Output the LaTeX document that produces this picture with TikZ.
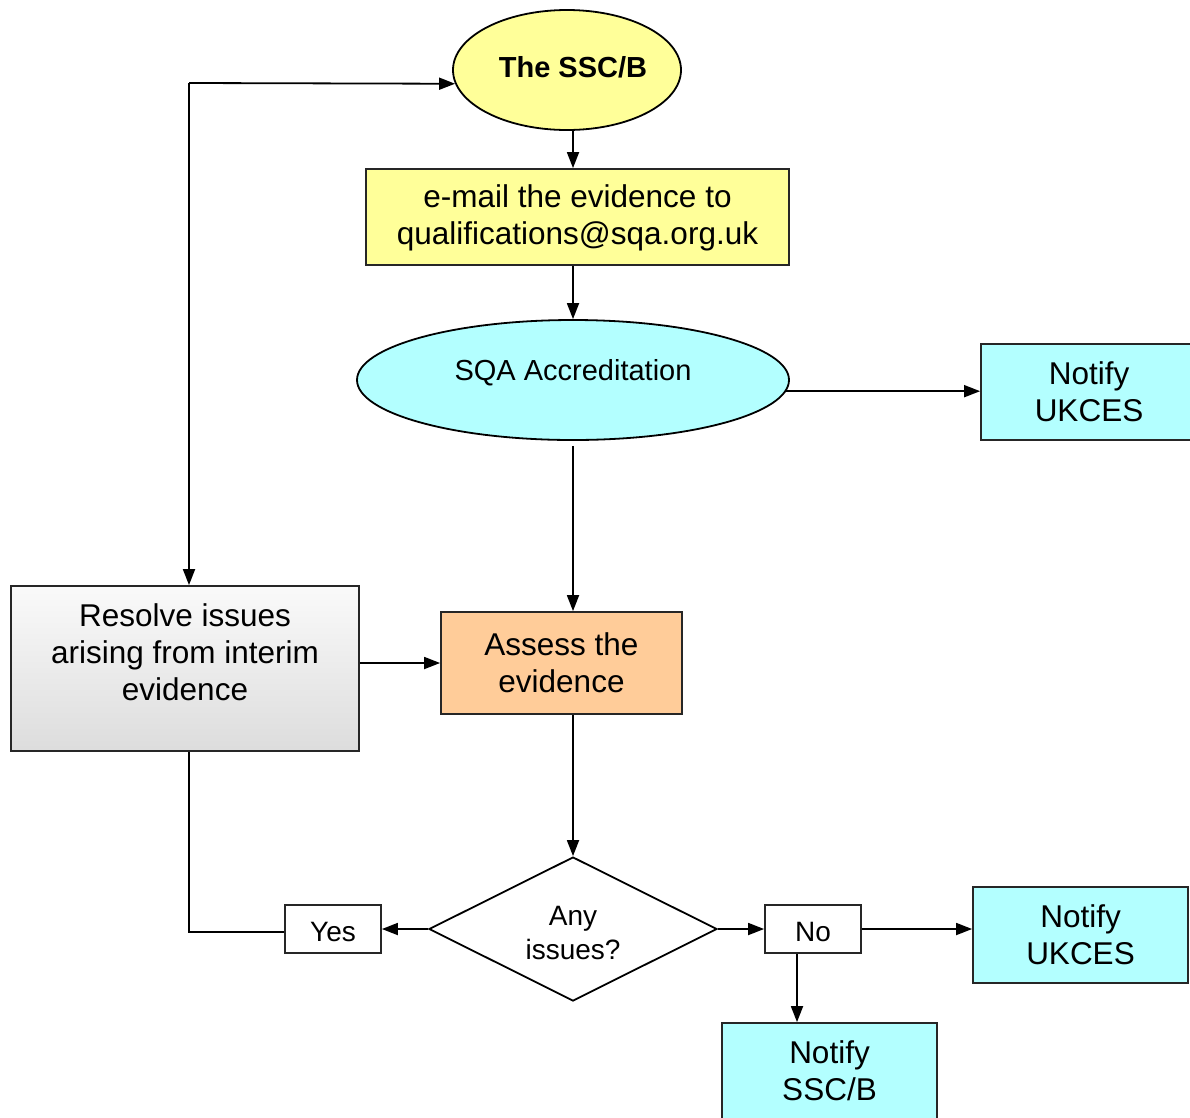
\documentclass[tikz,border=0pt]{standalone}
\usepackage{fontspec}
\setmainfont{Liberation Sans}
\usetikzlibrary{shapes.geometric,arrows.meta,calc}
\definecolor{cyanfill}{HTML}{B3FFFF}
\definecolor{yelfill}{HTML}{FFFF99}
\definecolor{orgfill}{HTML}{FFCC99}
\begin{document}
\begin{tikzpicture}[x=1pt,y=-1pt,
  line width=1.8pt,
  arr/.style={-{Triangle[length=16pt,width=12pt]}},
  boxy/.style={draw=black!85,rectangle,inner sep=0pt,align=center},
  bigtxt/.style={font=\fontsize{31.5}{37}\selectfont,align=center},
  ]
\useasboundingbox (0,0) rectangle (1190,1117);
\clip (0,0) rectangle (1190,1117);
% nodes
\node[draw,ellipse,fill=yelfill,minimum width=228pt,minimum height=120pt,inner sep=0pt] (ssc) at (567,70) {};
\node[font=\bfseries\fontsize{29}{34}\selectfont] (ssctxt) at (573,67) {The SSC/B};
\node[boxy,fill=yelfill,minimum width=423pt,minimum height=96pt] (email) at (577.5,217) {};
\node[bigtxt] (emailtxt) at (577.5,218) {e-mail the evidence to\\qualifications@sqa.org.uk};
\node[draw,ellipse,fill=cyanfill,minimum width=432pt,minimum height=120pt,inner sep=0pt] (sqa) at (573,380) {};
\node[font=\fontsize{29}{34}\selectfont] (sqatxt) at (573,373) {SQA Accreditation};
\node[boxy,fill=cyanfill,minimum width=216pt,minimum height=96pt,bigtxt] (n1) at (1089,392) {Notify\\UKCES};
\node[boxy,fill=orgfill,minimum width=241pt,minimum height=102pt,bigtxt] (assess) at (561.5,663) {Assess the\\evidence};
\node[boxy,top color=gray!4,bottom color=gray!27,minimum width=348pt,minimum height=165pt] (resolve) at (185,668.5) {};
\node[bigtxt] (resolvetxt) at (185,652) {Resolve issues\\arising from interim\\evidence};
\node[draw,diamond,fill=white,minimum width=288pt,minimum height=144pt,inner sep=0pt,aspect=2] (dia) at (573,929) {};
\node[font=\fontsize{28}{34}\selectfont,align=center] (diatxt) at (573,933) {Any\\issues?};
\node[boxy,fill=white,minimum width=96pt,minimum height=48pt] (yes) at (333,929) {};
\node[font=\fontsize{28}{32}\selectfont] (yestxt) at (333,932) {Yes};
\node[boxy,fill=white,minimum width=96pt,minimum height=48pt] (no) at (813,929) {};
\node[font=\fontsize{28}{32}\selectfont] (notxt) at (813,932) {No};
\node[boxy,fill=cyanfill,minimum width=215pt,minimum height=96pt,bigtxt] (n2) at (1080.5,935) {Notify\\UKCES};
\node[boxy,fill=cyanfill,minimum width=215pt,minimum height=100pt] (n3) at (829.5,1073) {};
\node[bigtxt] (n3txt) at (829.5,1071) {Notify\\SSC/B};
\coordinate (lx) at (189,83);
% connectors
\draw[arr] (ssc.south -| sqa.north) -- (email.north -| sqa.north);
\draw[arr] (email.south -| sqa.north) -- (sqa.north);
\draw[arr] (sqa.-3) -- (sqa.-3 -| n1.west);
\draw[arr] ($(sqa.south)+(0,5)$) -- (sqa.south |- assess.north);
\draw[arr] (assess.south -| dia.north) -- (dia.north);
\draw[arr] (lx) -- (ssc.187);
\draw[arr] (lx) -- (lx |- resolve.north);
\draw[arr] (assess.west -| resolve.east) -- (assess.west);
\draw (lx |- resolve.south) -- ($(lx |- yes.west)+(0,3)$) -- ($(yes.west)+(0,3)$);
\draw[arr] (dia.west) -- (yes.east);
\draw[arr] (dia.east) -- (no.west);
\draw[arr] (no.east) -- (no.east -| n2.west);
\draw[arr] ($(no.south)+(-16,0)$) -- ($(no.south |- n3.north)+(-16,0)$);
\end{tikzpicture}
\end{document}
